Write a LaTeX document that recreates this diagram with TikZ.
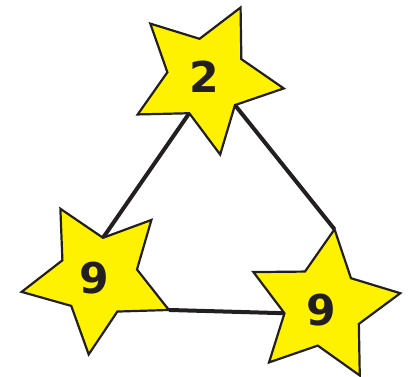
\documentclass[tikz,border=0pt]{standalone}
\usepackage{fontspec}
\setmainfont{DejaVu Sans}
\definecolor{staryellow}{HTML}{FFF200}
\definecolor{ink}{HTML}{231F20}
\tikzset{
  starshape/.style={fill=staryellow, draw=ink, line width=2.2pt, line join=miter},
  link/.style={draw=ink, line width=4pt},
  digit/.style={font=\fontsize{42.5}{42.5}\selectfont\bfseries, text=ink, inner sep=0pt},
}
% name, x, y, angle of first outer point
\newcommand\defstar[4]{%
  \foreach \k in {0,...,4}{
    \coordinate (#1-o\k) at ([shift={(#2,#3)}]{#4+72*\k}:78);
    \coordinate (#1-i\k) at ([shift={(#2,#3)}]{#4+36+72*\k}:39.5);
  }%
}
\newcommand\paintstar[1]{%
  \path[starshape] (#1-o0) -- (#1-i0) -- (#1-o1) -- (#1-i1) -- (#1-o2) -- (#1-i2)
    -- (#1-o3) -- (#1-i3) -- (#1-o4) -- (#1-i4) -- cycle;
}
\begin{document}
\begin{tikzpicture}[x=1pt,y=1pt]
  \useasboundingbox (0,0) rectangle (408,-376);
  \defstar{top}{206.5}{-77.7}{64.1}
  \defstar{left}{98.2}{-277}{47}
  \defstar{right}{323.4}{-306.5}{9.8}
  % connectors
  \draw[link] (top-i2) -- (left-i0);
  \draw[link] (top-i3) -- (right-o1);
  \draw[link] (left-o4) -- (right-i2);
  % stars
  \paintstar{top}
  \paintstar{left}
  \paintstar{right}
  % numbers
  \node[digit] (n1) at (204.5,-77.2) {2};
  \node[digit] (n2) at (94.7,-278.5) {9};
  \node[digit] (n3) at (321.3,-309.7) {9};
\end{tikzpicture}
\end{document}
